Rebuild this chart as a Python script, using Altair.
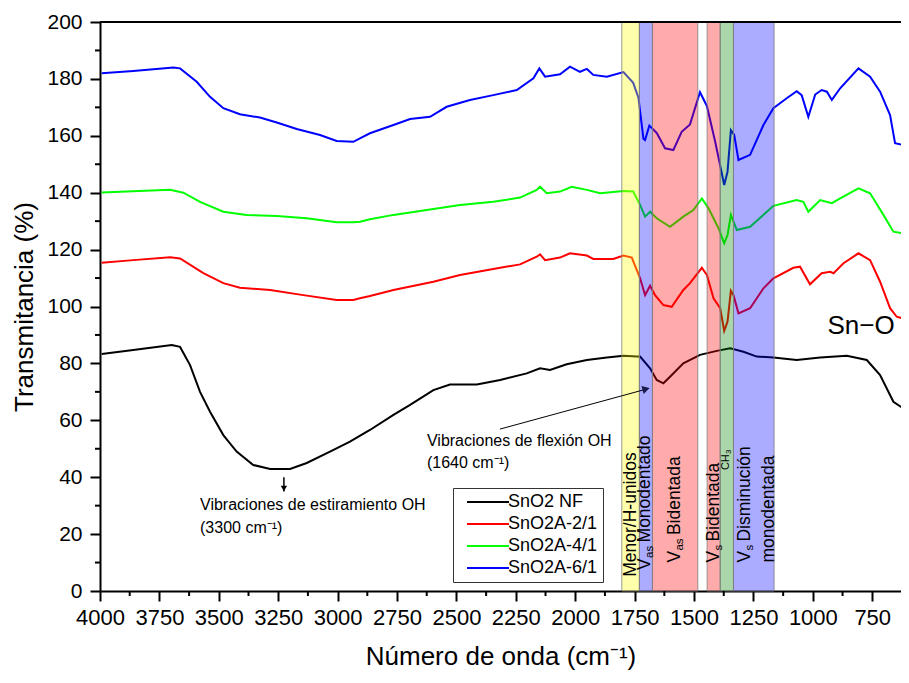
import altair as alt
import pandas as pd

# ---------------- data ----------------
series_names = ["SnO2 NF", "SnO2A-2/1", "SnO2A-4/1", "SnO2A-6/1"]
series_colors = ["#000000", "#ff0000", "#00ff00", "#0000ff"]

nf_wn = [3993, 3860, 3698, 3663, 3621, 3579, 3537, 3481, 3425, 3355, 3284, 3200, 3130, 3032,
         2948, 2864, 2765, 2695, 2597, 2527, 2414, 2316, 2204, 2148, 2106, 2036, 1951, 1867,
         1797, 1741, 1727, 1685, 1657, 1629, 1601, 1545, 1475, 1404, 1348, 1292, 1236, 1166,
         1068, 969, 857, 773, 717, 661, 620, 595]
nf_t = [83.3, 84.7, 86.5, 85.8, 79.4, 70.0, 63.0, 54.8, 49.0, 44.3, 42.9, 42.9, 45.0, 49.0,
        52.5, 56.6, 61.9, 65.4, 70.6, 72.6, 72.6, 74.2, 76.5, 78.3, 77.7, 79.7, 81.2, 82.1,
        82.7, 82.4, 82.4, 78.3, 74.2, 73.0, 75.3, 80.0, 83.0, 84.4, 85.3, 84.1, 82.4, 82.1,
        81.2, 82.1, 82.7, 81.2, 75.9, 66.5, 64.2, 61.9]

a2_wn = [3993, 3860, 3705, 3663, 3565, 3481, 3411, 3284, 3144, 3004, 2934, 2906, 2864, 2765,
         2597, 2485, 2345, 2232, 2162, 2148, 2127, 2064, 2022, 1951, 1924, 1840, 1797, 1762,
         1727, 1706, 1685, 1664, 1629, 1594, 1545, 1517, 1467, 1446, 1418, 1390, 1373, 1359,
         1345, 1334, 1313, 1264, 1208, 1166, 1082, 1054, 1012, 963, 927, 913, 871, 808, 759,
         717, 675, 647, 620, 595]
a2_t = [115.4, 116.3, 117.3, 116.9, 111.7, 108.2, 106.6, 105.8, 104.0, 102.3, 102.3, 102.9,
        103.7, 105.8, 108.7, 111.1, 113.2, 114.8, 117.5, 118.3, 116.3, 117.2, 118.7, 117.9,
        116.7, 116.7, 117.9, 117.2, 109.9, 104.0, 107.3, 104.0, 100.5, 99.9, 105.8, 108.2,
        113.6, 111.1, 102.9, 99.4, 91.4, 94.7, 105.5, 104.0, 97.6, 99.4, 106.4, 109.9, 113.6,
        114.0, 107.8, 111.7, 112.2, 111.7, 115.2, 118.7, 116.3, 108.7, 99.4, 96.4, 95.8, 92.3]

a4_wn = [3993, 3705, 3649, 3579, 3481, 3383, 3256, 3130, 3004, 2934, 2906, 2864, 2765, 2625,
         2485, 2345, 2232, 2162, 2148, 2120, 2064, 2015, 1951, 1895, 1797, 1756, 1727, 1706,
         1685, 1657, 1601, 1545, 1503, 1467, 1439, 1397, 1373, 1359, 1345, 1320, 1264, 1166,
         1068, 1040, 1019, 969, 920, 885, 808, 759, 703, 661, 620, 595]
a4_t = [140.1, 141.0, 140.0, 136.8, 133.3, 132.2, 131.8, 131.0, 129.6, 129.6, 129.8, 130.7,
        132.2, 133.9, 135.7, 136.8, 138.3, 141.0, 142.1, 139.8, 140.4, 142.1, 141.0, 139.8,
        140.6, 140.4, 135.7, 131.6, 133.3, 131.0, 128.0, 131.6, 133.9, 138.0, 134.5, 127.5,
        122.2, 125.1, 132.2, 126.9, 128.0, 135.4, 137.4, 136.8, 133.3, 137.4, 136.3, 138.0,
        141.5, 139.8, 132.2, 126.3, 125.7, 122.2]

a6_wn = [3993, 3860, 3691, 3663, 3593, 3537, 3481, 3411, 3327, 3256, 3172, 3074, 3004, 2934,
         2906, 2864, 2765, 2695, 2611, 2541, 2443, 2345, 2246, 2176, 2151, 2127, 2064, 2022,
         1980, 1951, 1924, 1867, 1797, 1756, 1734, 1713, 1706, 1688, 1657, 1622, 1587, 1552,
         1517, 1475, 1446, 1411, 1373, 1359, 1345, 1331, 1313, 1264, 1208, 1166, 1110, 1068,
         1047, 1019, 990, 963, 941, 920, 885, 808, 759, 717, 675, 654, 620, 595]
a6_t = [182.0, 182.8, 184.0, 183.7, 179.0, 173.7, 169.7, 167.6, 166.4, 164.7, 162.4, 160.3,
        158.2, 157.9, 159.1, 160.9, 163.8, 165.9, 166.7, 170.2, 172.6, 174.3, 176.1, 180.2,
        183.7, 180.8, 181.6, 184.3, 182.5, 183.5, 181.4, 180.8, 182.4, 178.6, 173.4, 159.0,
        158.5, 163.6, 161.0, 155.6, 155.0, 161.4, 164.0, 175.3, 170.5, 157.9, 142.7, 147.4,
        162.0, 160.3, 151.5, 153.3, 163.8, 169.7, 173.2, 175.7, 174.3, 166.7, 174.5, 176.1,
        175.5, 172.6, 176.7, 183.7, 180.8, 175.5, 167.3, 157.4, 156.8, 152.7]

band_start = [1804, 1730, 1675, 1445, 1390, 1334]
band_end = [1730, 1675, 1484, 1390, 1334, 1163]
band_color = ["#ffff00", "#0000ff", "#ff0000", "#ff0000", "#008000", "#0000ff"]

x_major = list(range(4000, 749, -250))
x_minor = list(range(3875, 629, -250))
y_major = list(range(0, 201, 20))
y_minor = list(range(10, 200, 20))

# ---------------- build ----------------
rows = []
for name, wn, t in zip(series_names,
                       [nf_wn, a2_wn, a4_wn, a6_wn],
                       [nf_t, a2_t, a4_t, a6_t]):
    for w, v in zip(wn, t):
        rows.append({"wn": w, "T": v, "serie": name})
df = pd.DataFrame(rows)

bands = pd.DataFrame({"s": band_start, "e": band_end, "c": band_color})

FONT = "Liberation Sans, Arial, sans-serif"
X_LO, X_HI = 4000, 629
xs = alt.Scale(domain=[X_LO, X_HI], nice=False, zero=False)
ys = alt.Scale(domain=[0, 200], nice=False, zero=False)

x_axis = alt.Axis(
    values=x_major, format="d", tickSize=10,
    tickWidth=2, tickColor="black", domainWidth=2, domainColor="black",
    labelFont=FONT, labelFontSize=22, labelColor="black", labelPadding=6,
    labelOverlap=False, labelFlush=False, grid=False,
    title="Número de onda (cm⁻¹)", titleFont=FONT, titleFontSize=26,
    titleFontWeight="normal", titleColor="black", titlePadding=15)

y_axis = alt.Axis(
    values=y_major, format="d", tickSize=10,
    tickWidth=2, tickColor="black", domainWidth=2, domainColor="black",
    labelFont=FONT, labelFontSize=21, labelColor="black", labelPadding=8,
    labelOverlap=False, labelFlush=False, grid=False,
    title="Transmitancia (%)", titleFont=FONT, titleFontSize=26,
    titleFontWeight="normal", titleColor="black", titlePadding=9)


def X(field=None, **kw):
    if field is None:
        return alt.X(scale=xs, axis=x_axis, **kw)
    return alt.X(field, scale=xs, axis=x_axis, **kw)


def Y(field=None, **kw):
    if field is None:
        return alt.Y(scale=ys, axis=y_axis, **kw)
    return alt.Y(field, scale=ys, axis=y_axis, **kw)


lines = alt.Chart(df).mark_line(strokeWidth=2, clip=True).encode(
    x=X("wn:Q"),
    y=Y("T:Q"),
    color=alt.Color("serie:N",
                    scale=alt.Scale(domain=series_names, range=series_colors),
                    sort=series_names,
                    legend=alt.Legend(title=None, orient="none", legendX=353, legendY=466,
                                      strokeColor="#333333", fillColor="white", padding=5,
                                      symbolType="M0,0L5.25,0", symbolSize=256,
                                      symbolStrokeWidth=2, labelFont=FONT, labelFontSize=18,
                                      labelColor="black", labelOffset=32, rowPadding=4,
                                      labelLimit=300)),
)

rects = alt.Chart(bands).mark_rect(fillOpacity=0.33, stroke="#808080", strokeWidth=1,
                                   strokeOpacity=0.8).encode(
    x=X("s:Q"),
    x2="e:Q",
    y=Y(datum=0),
    y2=alt.Y2(datum=200),
    fill=alt.Fill("c:N", scale=None),
)

# top frame line
top_frame = alt.Chart(pd.DataFrame({"a": [X_LO], "b": [X_HI]})).mark_rule(
    color="black", strokeWidth=2).encode(
    x=X("a:Q"), x2="b:Q", y=Y(datum=200))

# minor ticks (outside the plot, through the scales)
xminor = alt.Chart(pd.DataFrame({"v": x_minor})).mark_rule(
    color="black", strokeWidth=2, y2Offset=5).encode(
    x=X("v:Q"),
    y=Y(datum=0),
    y2=alt.Y2(datum=0))
yminor = alt.Chart(pd.DataFrame({"v": y_minor})).mark_rule(
    color="black", strokeWidth=2, x2Offset=-5).encode(
    y=Y("v:Q"),
    x=X(datum=X_LO),
    x2=alt.X2(datum=X_LO))


def txt(x, y, s, **kw):
    d = pd.DataFrame({"x": [x], "y": [y], "t": [s]})
    return alt.Chart(d).mark_text(**kw).encode(x=X("x:Q"), y=Y("y:Q"), text="t:N")


LB = dict(font=FONT, fontSize=17.5, color="black", angle=270, align="left", baseline="middle")
SB = dict(font=FONT, fontSize=11.5, color="black", angle=270, align="left", baseline="middle")
labels = [
    txt(1765, 5.0, "Menor/H-unidos", **LB),
    txt(1706, 7.4, "V", **LB),
    txt(1706, 7.4, "as", dx=12, dy=5, **SB),
    txt(1706, 7.4, "Monodentado", dx=27.5, **LB),
    txt(1580, 10.0, "V", **LB),
    txt(1580, 10.0, "as", dx=12, dy=5, **SB),
    txt(1580, 10.0, "Bidentada", dx=27.5, **LB),
    txt(1416, 10.0, "V", **LB),
    txt(1416, 10.0, "s", dx=12, dy=5, **SB),
    txt(1416, 10.0, "Bidentada", dx=21, **LB),
    txt(1365, 42.5, "CH", font=FONT, fontSize=11, color="black", angle=270, align="left",
        baseline="middle"),
    txt(1365, 42.5, "3", dx=16, dy=3, font=FONT, fontSize=8, color="black", angle=270,
        align="left", baseline="middle"),
    txt(1285, 10.0, "V", **LB),
    txt(1285, 10.0, "s", dx=12, dy=5, **SB),
    txt(1285, 10.0, "Disminución", dx=21, **LB),
    txt(1184, 10.0, "monodentada", **LB),
]

AN = dict(font=FONT, fontSize=16, color="black", align="left", baseline="middle")
annots = [
    txt(3579, 30.2, "Vibraciones de estiramiento OH", **AN),
    txt(3579, 22.3, "(3300 cm⁻¹)", **AN),
    txt(2624, 52.7, "Vibraciones de flexión OH", **AN),
    txt(2624, 45.0, "(1640 cm⁻¹)", **AN),
    txt(797, 93.1, "Sn−O", font=FONT, fontSize=26, color="black", align="center",
        baseline="middle"),
]

arrow_df = pd.DataFrame({"x": [2317], "y": [56.9], "x2": [1690], "y2": [71.2]})
arrow_line = alt.Chart(arrow_df).mark_rule(color="black", strokeWidth=1).encode(
    x=X("x:Q"), y=Y("y:Q"), x2="x2:Q", y2="y2:Q")
head_df = pd.DataFrame({"x": [1702], "y": [71.0]})
arrow_head = alt.Chart(head_df).mark_point(shape="triangle-right", filled=True, size=70,
                                           angle=344.7, color="#1a1a4d", opacity=1).encode(
    x=X("x:Q"), y=Y("y:Q"))

up_df = pd.DataFrame({"x": [3226], "y": [40.0], "y2": [35.0]})
up_line = alt.Chart(up_df).mark_rule(color="black", strokeWidth=1.5).encode(
    x=X("x:Q"), y=Y("y:Q"), y2="y2:Q")
up_head_df = pd.DataFrame({"x": [3226], "y": [36.0]})
up_head = alt.Chart(up_head_df).mark_point(shape="triangle-down", filled=True, size=40,
                                           color="black", opacity=1).encode(
    x=X("x:Q"), y=Y("y:Q"))

chart = alt.layer(lines, rects, top_frame, xminor, yminor, *labels, *annots, arrow_line,
                  arrow_head, up_line, up_head).properties(
    width=801, height=569,
    autosize=alt.AutoSizeParams(type="none"),
    padding={"left": 92, "top": 14, "right": 0, "bottom": 81},
    background="white",
).configure_view(stroke="transparent", strokeWidth=0)

chart.save("out.html", embed_options={"renderer": "svg", "actions": False})
